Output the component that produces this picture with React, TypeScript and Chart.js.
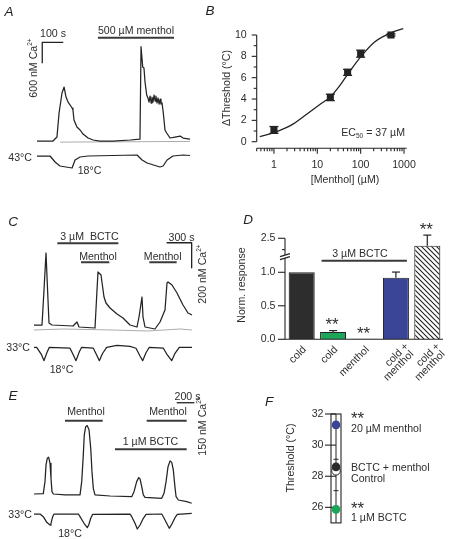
import React, { useEffect, useRef } from 'react';
import { Chart, registerables } from 'chart.js';

Chart.register(...registerables);

const W = 454;
const H = 539;
const FONT = '"Liberation Sans", Arial, Helvetica, sans-serif';
const INK = '#232323';
const TXT = '#2e2e2e';
const GRAY = '#ababab';
const STIM = '#3a3a3a';
const BLUE = '#3b4597';
const GREEN = '#1da55a';
const FS = 10.6;

type P = [number, number];

// ---------------- Panel A (time s, [Ca2+] nM, temperature °C) ----------------
const aCalcium: P[] = [[0,50],[76,50],[95,164],[105,851],[119,1423],[129,1594],[138,1308],[148,1165],[167,994],[171,937],[176,651],[190,450],[205,365],[219,250],[243,136],[267,79],[300,50],[362,50],[443,79],[490,107],[495,2747],[503,2166],[509,2138],[514,1737],[522,1366],[528,1280],[533,1165],[538,1337],[543,1137],[547,1308],[552,1165],[557,1366],[562,1194],[566,1337],[571,1137],[576,1280],[581,1108],[586,1251],[590,1108],[595,1137],[601,851],[609,365],[617,279],[633,136],[657,164],[681,193],[695,136],[728,107]];
const aBaseline: P[] = [[110,18],[300,25],[490,30],[728,38]];
const aTemperature: P[] = [[0,42],[62,42],[86,30],[109,22],[167,18],[181,34],[205,40],[243,42],[476,44],[500,34],[524,28],[585,20],[600,22],[619,34],[647,42],[695,44],[728,43]];
const aMenthol: P = [290, 652];

// ---------------- Panel B ----------------
const bConc = [1, 20, 50, 100, 500];
const bShift = [1.1, 4.15, 6.5, 8.25, 10.0];
const bSem = [0.32, 0.3, 0.28, 0.33, 0.1];
const bFit: P[] = [[0.47,0.47],[1,0.85],[2.5,1.55],[6,2.65],[12.5,3.6],[20,4.2],[33,5.25],[50,6.3],[100,7.95],[210,9.35],[500,10.2],[960,10.6]];
const bYTicks = [0, 2, 4, 6, 8, 10];
const bXTicks = [1, 10, 100, 1000];

// ---------------- Panel C ----------------
const cCalcium: P[] = [[0,60],[96,60],[120,340],[144,636],[168,260],[180,76],[216,60],[468,52],[516,84],[540,44],[732,36],[756,340],[768,484],[804,460],[840,284],[864,236],[912,196],[996,148],[1068,116],[1152,60],[1236,44],[1260,124],[1296,284],[1308,124],[1332,44],[1452,28],[1512,84],[1572,180],[1596,396],[1608,404],[1656,380],[1716,316],[1788,220],[1848,156],[1896,140]];
const cBaseline: P[] = [[0,20],[348,28],[948,20],[1356,12],[1752,28],[1896,20]];
const cTemperature: P[] = [[0,33],[32,33],[92,24.8],[120,18.7],[152,26.6],[184,33],[432,32],[472,24.8],[504,18.7],[544,28.3],[572,33],[712,32],[752,24.8],[784,18.7],[824,26.6],[872,33],[996,35],[1152,34],[1224,32],[1272,23.7],[1304,18.7],[1344,27.2],[1384,33],[1552,32],[1600,24.8],[1652,18.7],[1692,26.6],[1744,33],[1896,33]];
const cBctc: P = [280, 1012];
const cMenthol: P[] = [[564, 904], [1384, 1712]];

// ---------------- Panel D ----------------
const dLabels = [['cold'], ['cold'], ['menthol'], ['cold +', 'menthol'], ['cold +', 'menthol']];
const dValues = [1.0, 0.11, 0.008, 0.92, 2.17];
const dSem = [0, 0.02, 0, 0.09, 0.47];
const dStars = ['', '**', '**', '', '**'];
const dYTicks = [0, 0.5, 1.0, 2.5];
const dYTickLabels = ['0.0', '0.5', '1.0', '2.5'];

// ---------------- Panel E ----------------
const eCalcium: P[] = [[0,60],[105,62],[124,128],[136,220],[150,256],[166,262],[181,229],[192,146],[203,73],[218,60],[350,55],[520,55],[539,128],[557,275],[568,385],[584,430],[602,436],[622,412],[641,311],[655,183],[670,91],[689,55],[859,49],[1104,45],[1130,73],[1160,128],[1183,150],[1198,143],[1217,100],[1235,55],[1254,42],[1443,36],[1469,64],[1492,128],[1514,210],[1537,242],[1556,234],[1574,192],[1590,110],[1605,45],[1631,27],[1726,18],[1782,9]];
const eTemperature: P[] = [[0,33],[68,33],[105,30.3],[144,24.7],[181,22],[192,23.7],[211,30.3],[226,33],[501,33],[520,30.3],[565,23.7],[602,19.3],[618,22],[641,28.7],[663,32.7],[1085,33],[1104,30.3],[1141,23.7],[1167,18],[1198,22],[1235,28.7],[1266,32.7],[1443,33],[1461,30.3],[1499,23.7],[1528,18.7],[1556,22.7],[1593,29.3],[1619,32.7],[1782,33.7]];
const eMenthol: P[] = [[350, 776], [1273, 1725]];
const eBctc: P = [915, 1725];

// ---------------- Panel F ----------------
const fConditions = ['20 µM menthol', 'Control', 'BCTC + menthol', '1 µM BCTC'];
const fThreshold = [31.3, 28.35, 28.6, 25.87];
const fSem = [0.2, 1.28, 0.49, 0.2];
const fSemSide = [0, -1, 1, 0];
const fYTicks = [26, 28, 30, 32];

// ---------------- helpers ----------------
type Seg = { t: string; sup?: boolean; sub?: boolean };
type TOpt = { size?: number; align?: 'left' | 'center' | 'right'; rot?: number; italic?: boolean; color?: string };

function drawText(ctx: CanvasRenderingContext2D, segs: Seg[] | string, x: number, y: number, opt: TOpt = {}) {
  const parts: Seg[] = typeof segs === 'string' ? [{ t: segs }] : segs;
  const size = opt.size ?? FS;
  const small = size * 0.62;
  const align = opt.align ?? 'center';
  ctx.save();
  ctx.translate(x, y);
  if (opt.rot) ctx.rotate(opt.rot);
  ctx.fillStyle = opt.color ?? TXT;
  ctx.textBaseline = 'middle';
  ctx.textAlign = 'left';
  const fontOf = (s: Seg) => `${opt.italic ? 'italic ' : ''}${s.sup || s.sub ? small : size}px ${FONT}`;
  const widths = parts.map((s) => { ctx.font = fontOf(s); return ctx.measureText(s.t).width; });
  const total = widths.reduce((a, b) => a + b, 0);
  let cx = align === 'left' ? 0 : align === 'center' ? -total / 2 : -total;
  parts.forEach((s, i) => {
    ctx.font = fontOf(s);
    const dy = s.sup ? -size * 0.32 : s.sub ? size * 0.3 : 0;
    ctx.fillText(s.t, cx, dy);
    cx += widths[i];
  });
  ctx.restore();
}

function stroke(ctx: CanvasRenderingContext2D, pts: P[], w = 1, color = INK) {
  ctx.save();
  ctx.strokeStyle = color;
  ctx.lineWidth = w;
  ctx.beginPath();
  pts.forEach(([x, y], i) => (i ? ctx.lineTo(x, y) : ctx.moveTo(x, y)));
  ctx.stroke();
  ctx.restore();
}

function stars(ctx: CanvasRenderingContext2D, s: string, x: number, y: number, align: 'left' | 'center' = 'center') {
  ctx.save();
  ctx.fillStyle = TXT;
  ctx.font = `17px ${FONT}`;
  ctx.textAlign = align;
  ctx.textBaseline = 'middle';
  ctx.fillText(s, x, y + 4);
  ctx.restore();
}

const letter = (ctx: CanvasRenderingContext2D, s: string, x: number, y: number) =>
  drawText(ctx, s, x, y, { size: 13.5, italic: true, color: '#222' });

const area = (l: number, t: number, r: number, b: number) => ({ left: l, top: t, right: W - r, bottom: H - b });

function base(pad: any, scales: any) {
  return {
    responsive: false,
    animation: false,
    events: [],
    layout: { padding: pad },
    plugins: { legend: { display: false }, tooltip: { enabled: false }, title: { display: false } },
    scales,
  } as any;
}

function line(points: P[], color: string, width: number, yAxisID = 'y', extra: any = {}) {
  return {
    type: 'line',
    data: points.map(([x, y]) => ({ x, y })),
    borderColor: color,
    borderWidth: width,
    pointRadius: 0,
    fill: false,
    tension: 0,
    yAxisID,
    clip: false,
    borderJoinStyle: 'round',
    ...extra,
  };
}

interface TraceCfg {
  calcium: P[];
  baseline?: P[];
  temperature: P[];
  stims: { span: P; level: number }[];
  scaleBar: P[];
  x: P;
  y: P;
  yT: P;
  box: [number, number, number, number];
  draw: (ctx: CanvasRenderingContext2D) => void;
}

function makeTrace(canvas: HTMLCanvasElement, o: TraceCfg) {
  const datasets: any[] = [line(o.calcium, INK, 1.25)];
  if (o.baseline) datasets.push(line(o.baseline, GRAY, 1));
  datasets.push(line(o.temperature, INK, 1.25, 'yT'));
  o.stims.forEach((s) => datasets.push(line([[s.span[0], s.level], [s.span[1], s.level]], STIM, 2)));
  datasets.push(line(o.scaleBar, INK, 1.3));
  return new Chart(canvas, {
    type: 'line',
    data: { datasets },
    options: base(area(...o.box), {
      x: { type: 'linear', min: o.x[0], max: o.x[1], display: false },
      y: { type: 'linear', min: o.y[0], max: o.y[1], display: false },
      yT: { type: 'linear', axis: 'y', min: o.yT[0], max: o.yT[1], display: false },
    }),
    plugins: [{ id: 'ann', afterDraw: (c: any) => o.draw(c.ctx) }],
  } as any);
}

function makeA(cv: HTMLCanvasElement) {
  return makeTrace(cv, {
    calcium: aCalcium,
    baseline: aBaseline,
    temperature: aTemperature,
    stims: [{ span: aMenthol, level: 3000 }],
    scaleBar: [[25, 2273], [25, 2873], [125, 2873]],
    x: [0, 728],
    y: [-922, 3225],
    yT: [4, 294],
    box: [37, 30, 190, 175],
    draw: (ctx) => {
      letter(ctx, 'A', 9, 12);
      drawText(ctx, '100 s', 53, 34);
      drawText(ctx, [{ t: '600 nM Ca' }, { t: '2+', sup: true }], 34, 68, { rot: -Math.PI / 2 });
      drawText(ctx, '500 µM menthol', 136, 31);
      drawText(ctx, '43°C', 32, 158.5, { align: 'right' });
      drawText(ctx, '18°C', 89.5, 171.5);
    },
  });
}

function makeC(cv: HTMLCanvasElement) {
  return makeTrace(cv, {
    calcium: cCalcium,
    baseline: cBaseline,
    temperature: cTemperature,
    stims: [{ span: cBctc, level: 714 }, { span: cMenthol[0], level: 562 }, { span: cMenthol[1], level: 562 }],
    scaleBar: [[1592, 718], [1892, 718], [1892, 518]],
    x: [0, 1896],
    y: [-300, 820],
    yT: [8.7, 158.5],
    box: [34, 230, 192, 370],
    draw: (ctx) => {
      letter(ctx, 'C', 13, 222);
      drawText(ctx, '3 µM  BCTC', 89.5, 237.5);
      drawText(ctx, 'Menthol', 98, 257);
      drawText(ctx, 'Menthol', 162.7, 257);
      drawText(ctx, '300 s', 181.5, 238);
      drawText(ctx, [{ t: '200 nM Ca' }, { t: '2+', sup: true }], 203, 274, { rot: -Math.PI / 2 });
      drawText(ctx, '33°C', 30, 348.5, { align: 'right' });
      drawText(ctx, '18°C', 61.5, 370);
    },
  });
}

function makeE(cv: HTMLCanvasElement) {
  return makeTrace(cv, {
    calcium: eCalcium,
    temperature: eTemperature,
    stims: [{ span: eMenthol[0], level: 463 }, { span: eMenthol[1], level: 463 }, { span: eBctc, level: 306 }],
    scaleBar: [[1612, 562], [1812, 562], [1812, 412]],
    x: [0, 1785],
    y: [-165.5, 632],
    yT: [12, 157],
    box: [34, 390, 192, 535],
    draw: (ctx) => {
      letter(ctx, 'E', 13, 396);
      drawText(ctx, 'Menthol', 86, 412.5);
      drawText(ctx, 'Menthol', 168, 412.5);
      drawText(ctx, '1 µM BCTC', 150.5, 442.5);
      drawText(ctx, '200 s', 187.5, 397.5);
      drawText(ctx, [{ t: '150 nM Ca' }, { t: '2+', sup: true }], 203, 426, { rot: -Math.PI / 2 });
      drawText(ctx, '33°C', 32, 515, { align: 'right' });
      drawText(ctx, '18°C', 70, 534);
    },
  });
}

function makeB(cv: HTMLCanvasElement) {
  return new Chart(cv, {
    type: 'scatter',
    data: {
      datasets: [
        {
          type: 'scatter',
          data: bConc.map((c, i) => ({ x: c, y: bShift[i] })),
          pointStyle: 'rect',
          pointRadius: 5,
          backgroundColor: INK,
          borderColor: INK,
          borderWidth: 0,
          clip: false,
        },
        line(bFit, INK, 1.3, 'y', { cubicInterpolationMode: 'monotone' }),
      ],
    },
    options: base(area(256.7, 35, 406.7, 148.3), {
      x: { type: 'logarithmic', min: 0.4, max: 1154, display: false },
      y: { type: 'linear', min: -0.6186, max: 10, display: false },
    }),
    plugins: [
      {
        id: 'errB',
        beforeDatasetsDraw: (c: any) => {
          const ctx = c.ctx, xs = c.scales.x, ys = c.scales.y;
          bConc.forEach((cc, i) => {
            const x = xs.getPixelForValue(cc);
            const t = ys.getPixelForValue(bShift[i] + bSem[i]);
            const b = ys.getPixelForValue(bShift[i] - bSem[i]);
            stroke(ctx, [[x, t], [x, b]], 1.3);
            stroke(ctx, [[x - 4.5, t], [x + 4.5, t]], 1.3);
            stroke(ctx, [[x - 4.5, b], [x + 4.5, b]], 1.3);
          });
        },
        afterDraw: (c: any) => {
          const ctx = c.ctx, xs = c.scales.x, ys = c.scales.y;
          const ax = c.chartArea.left, ay = c.chartArea.bottom;
          letter(ctx, 'B', 210, 11);
          // y axis
          stroke(ctx, [[ax, ys.getPixelForValue(0)], [ax, ys.getPixelForValue(10)]], 1.1);
          for (let v = 0; v <= 10; v++) {
            const y = ys.getPixelForValue(v);
            stroke(ctx, [[ax - (v % 2 ? 3 : 5), y], [ax, y]], 1.1);
          }
          bYTicks.forEach((v) => drawText(ctx, String(v), ax - 10, ys.getPixelForValue(v), { align: 'right' }));
          // x axis
          stroke(ctx, [[ax, ay], [c.chartArea.right, ay]], 1.1);
          for (let d = -1; d <= 3; d++) {
            for (let m = 1; m <= 9; m++) {
              const v = m * Math.pow(10, d);
              if (v < xs.min - 1e-9 || v > xs.max) continue;
              const x = xs.getPixelForValue(v);
              stroke(ctx, [[x, ay], [x, ay + (m === 1 ? 5.5 : 3)]], 1.1);
            }
          }
          bXTicks.forEach((v) => drawText(ctx, String(v), xs.getPixelForValue(v), 165));
          drawText(ctx, '[Menthol] (µM)', 345, 180);
          drawText(ctx, 'ΔThreshold (°C)', 227, 88, { rot: -Math.PI / 2 });
          drawText(ctx, [{ t: 'EC' }, { t: '50', sub: true }, { t: ' = 37 µM' }], 405, 133, { align: 'right' });
        },
      },
    ],
  } as any);
}

const dDisp = (v: number) => (v <= 1 ? v : 1 + (v - 1) * 0.3383);

function hatch(): any {
  const s = 5;
  const c = document.createElement('canvas');
  c.width = s;
  c.height = s;
  const g = c.getContext('2d')!;
  g.fillStyle = '#ffffff';
  g.fillRect(0, 0, s, s);
  g.strokeStyle = '#222';
  g.lineWidth = 1.1;
  g.beginPath();
  g.moveTo(-1, -1); g.lineTo(s + 1, s + 1);
  g.moveTo(s - 1, -1); g.lineTo(s + 1, 1);
  g.moveTo(-1, s - 1); g.lineTo(1, s + 1);
  g.stroke();
  return g.createPattern(c, 'repeat');
}

function makeD(cv: HTMLCanvasElement) {
  return new Chart(cv, {
    type: 'bar',
    data: {
      labels: dLabels.map((l) => l.join(' ')),
      datasets: [
        {
          data: dValues.map(dDisp),
          backgroundColor: ['#2d2d2d', GREEN, '#2d2d2d', BLUE, hatch()],
          borderColor: INK,
          borderWidth: 1.1,
          barPercentage: 0.83,
          categoryPercentage: 1,
        },
      ],
    },
    options: base(area(286, 230, 443, 339.3), {
      x: { type: 'category', display: false },
      y: { type: 'linear', min: 0, max: 1.631, display: false },
    }),
    plugins: [
      {
        id: 'annD',
        afterDraw: (c: any) => {
          const ctx = c.ctx, xs = c.scales.x, ys = c.scales.y;
          const ax = 285, ay = ys.getPixelForValue(0);
          letter(ctx, 'D', 248, 220);
          // error bars (upward)
          dValues.forEach((v, i) => {
            if (!dSem[i]) return;
            const x = xs.getPixelForValue(i);
            const y0 = ys.getPixelForValue(dDisp(v));
            const y1 = ys.getPixelForValue(dDisp(v + dSem[i]));
            stroke(ctx, [[x, y0], [x, y1]], 1.2);
            stroke(ctx, [[x - 4, y1], [x + 4, y1]], 1.2);
          });
          dStars.forEach((s, i) => {
            if (!s) return;
            const top = ys.getPixelForValue(dDisp(dValues[i] + dSem[i]));
            stars(ctx, s, xs.getPixelForValue(i) - 1, Math.min(top, ay) - 8.8);
          });
          // axes
          stroke(ctx, [[ax, ay], [ax, ys.getPixelForValue(dDisp(2.5))]], 1.1);
          stroke(ctx, [[ax, ay], [443, ay]], 1.1);
          dYTicks.forEach((v, i) => {
            const y = ys.getPixelForValue(dDisp(v));
            stroke(ctx, [[ax - 7, y], [ax, y]], 1.1);
            drawText(ctx, dYTickLabels[i], ax - 9.5, y, { align: 'right' });
          });
          const y2 = ys.getPixelForValue(dDisp(2.0));
          stroke(ctx, [[ax - 3, y2], [ax, y2]], 1.1);
          // axis break
          const yb = ys.getPixelForValue(dDisp(1.69));
          ctx.save();
          ctx.fillStyle = '#fff';
          ctx.beginPath();
          ctx.moveTo(ax - 5, yb); ctx.lineTo(ax + 5, yb - 3); ctx.lineTo(ax + 5, yb); ctx.lineTo(ax - 5, yb + 3);
          ctx.closePath(); ctx.fill();
          ctx.restore();
          stroke(ctx, [[ax - 5, yb], [ax + 5, yb - 3]], 1.1);
          stroke(ctx, [[ax - 5, yb + 3], [ax + 5, yb]], 1.1);
          // BCTC bar
          const yB = 260.7;
          stroke(ctx, [[xs.getPixelForValue(1) - 11.5, yB], [xs.getPixelForValue(3) + 11, yB]], 2, STIM);
          drawText(ctx, '3 µM BCTC', 360, 254);
          drawText(ctx, 'Norm. response', 242, 285, { rot: -Math.PI / 2 });
          // category labels
          dLabels.forEach((lab, i) => {
            const cx = xs.getPixelForValue(i);
            const rot = -Math.PI / 4;
            if (lab.length === 1) {
              drawText(ctx, lab[0], cx + 3, 348, { align: 'right', rot });
            } else {
              const u = [0.7071, -0.7071], n = [0.7071, 0.7071];
              const offs = [[8, 3.5], [6, 12.5]];
              lab.forEach((t, k) => {
                const [a, b] = offs[k];
                drawText(ctx, t, cx + 3 + a * u[0] + b * n[0], 348 + a * u[1] + b * n[1], { align: 'right', rot });
              });
            }
          });
        },
      },
    ],
  } as any);
}

function makeF(cv: HTMLCanvasElement) {
  return new Chart(cv, {
    type: 'scatter',
    data: {
      datasets: [
        {
          data: fThreshold.map((v) => ({ x: 0, y: v })),
          pointRadius: 4.3,
          backgroundColor: [BLUE, '#ffffff', '#2a2a2a', GREEN],
          borderColor: [BLUE, INK, '#2a2a2a', GREEN],
          borderWidth: [0, 1, 0, 0],
          clip: false,
        },
      ],
    },
    options: base(area(331, 414, 341, 522.9), {
      x: { type: 'linear', min: -1, max: 1, display: false },
      y: { type: 'linear', min: 25, max: 32, display: false },
    }),
    plugins: [
      {
        id: 'annF',
        beforeDatasetsDraw: (c: any) => {
          const ctx = c.ctx, xs = c.scales.x, ys = c.scales.y, a = c.chartArea;
          const cx = xs.getPixelForValue(0);
          ctx.save();
          ctx.strokeStyle = INK;
          ctx.lineWidth = 1.1;
          ctx.strokeRect(a.left, a.top, a.right - a.left, a.bottom - a.top);
          ctx.restore();
          stroke(ctx, [[cx, a.top], [cx, a.bottom]], 1);
          fThreshold.forEach((v, i) => {
            const ends = fSemSide[i] === 0 ? [v - fSem[i], v + fSem[i]] : [v + fSemSide[i] * fSem[i]];
            ends.forEach((e) => {
              const y = ys.getPixelForValue(e);
              stroke(ctx, [[cx - 2.5, y], [cx + 2.5, y]], 1);
            });
          });
          fYTicks.forEach((v) => {
            const y = ys.getPixelForValue(v);
            stroke(ctx, [[a.left - 6, y], [cx, y]], 1.1);
          });
        },
        afterDraw: (c: any) => {
          const ctx = c.ctx, ys = c.scales.y, a = c.chartArea;
          letter(ctx, 'F', 269, 402.5);
          fYTicks.forEach((v) => drawText(ctx, String(v), a.left - 7.5, ys.getPixelForValue(v), { align: 'right' }));
          drawText(ctx, 'Threshold (°C)', 291, 458, { rot: -Math.PI / 2 });
          const tx = 351;
          stars(ctx, '**', tx, 415, 'left');
          drawText(ctx, fConditions[0], tx, 429, { align: 'left' });
          drawText(ctx, fConditions[2], tx, 467.7, { align: 'left' });
          drawText(ctx, fConditions[1], tx, 479.3, { align: 'left' });
          stars(ctx, '**', tx, 505, 'left');
          drawText(ctx, fConditions[3], tx, 517.7, { align: 'left' });
        },
      },
    ],
  } as any);
}

export default function App() {
  const r0 = useRef<HTMLCanvasElement>(null);
  const r1 = useRef<HTMLCanvasElement>(null);
  const r2 = useRef<HTMLCanvasElement>(null);
  const r3 = useRef<HTMLCanvasElement>(null);
  const r4 = useRef<HTMLCanvasElement>(null);
  const r5 = useRef<HTMLCanvasElement>(null);
  const refs = [r0, r1, r2, r3, r4, r5];

  useEffect(() => {
    const makers = [makeA, makeB, makeC, makeD, makeE, makeF];
    const charts = makers.map((m, i) => m(refs[i].current as HTMLCanvasElement));
    return () => charts.forEach((c) => c.destroy());
  }, []);

  return (
    <div style={{ position: 'absolute', left: 0, top: 0, width: W, height: H, background: '#ffffff', overflow: 'hidden' }}>
      {refs.map((r, i) => (
        <canvas key={i} ref={r} width={W} height={H} style={{ position: 'absolute', left: 0, top: 0, width: W, height: H }} />
      ))}
    </div>
  );
}
